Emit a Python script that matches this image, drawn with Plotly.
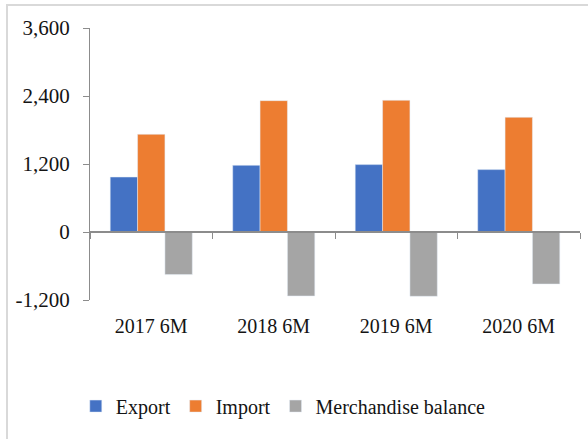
import plotly.graph_objects as go

categories = ["2017 6M", "2018 6M", "2019 6M", "2020 6M"]
export_vals = [970, 1177, 1189, 1101]
import_vals = [1724, 2318, 2324, 2024]
balance_vals = [-752, -1129, -1135, -918]
y_ticks = [-1200, 0, 1200, 2400, 3600]
y_range = [-1200, 3600]

FONT = "Liberation Serif"
TXT = "#141414"
AXIS = "#8c8c8c"

fig = go.Figure()
fig.add_bar(name="Export", x=categories, y=export_vals, marker_color="#4472C4")
fig.add_bar(name="Import", x=categories, y=import_vals, marker_color="#ED7D31")
fig.add_bar(name="Merchandise balance", x=categories, y=balance_vals, marker_color="#A5A5A5")

n = len(categories)
zero_pos = (0 - y_range[0]) / (y_range[1] - y_range[0])

fig.update_layout(
    width=588, height=439,
    margin=dict(l=90, r=8, t=28, b=139, autoexpand=False),
    paper_bgcolor="white", plot_bgcolor="white",
    font=dict(family=FONT, size=20, color=TXT),
    barmode="group", bargap=0.33, bargroupgap=0,
    showlegend=True,
    legend=dict(orientation="h", x=-0.029, xanchor="left", y=-0.39, yanchor="middle",
                font=dict(family=FONT, size=20, color=TXT), traceorder="normal"),
    xaxis=dict(type="category", range=[-0.5, n - 0.5], showline=False, ticks="",
               showgrid=False, zeroline=False, ticklabelstandoff=12, automargin=False),
    xaxis2=dict(overlaying="x", anchor="free", position=zero_pos, range=[-0.5, n - 0.5],
                tickmode="array", tickvals=[i - 0.5 for i in range(n + 1)],
                showticklabels=False, showline=True, linecolor=AXIS, linewidth=1.5,
                ticks="outside", ticklen=6, tickcolor=AXIS, showgrid=False, zeroline=False),
    yaxis=dict(range=y_range, tickmode="array", tickvals=y_ticks,
               ticktext=[f"{v:,}" for v in y_ticks], showgrid=False,
               zeroline=False, showline=True, linecolor=AXIS, linewidth=1,
               ticks="outside", ticklen=6, tickcolor=AXIS, ticklabelstandoff=9,
               tickfont=dict(size=21), automargin=False),
)
# invisible helper trace so the zero-line axis renders
fig.add_scatter(x=[0], y=[0], xaxis="x2", yaxis="y", mode="markers",
                marker=dict(opacity=0), showlegend=False, hoverinfo="skip")

# outer chart border
fig.add_shape(type="rect", xref="paper", yref="paper",
              x0=(7 - 90) / 490, x1=(600 - 90) / 490, y0=(300 - 450) / 272, y1=(300 - 5) / 272,
              line=dict(color="#d9d9d9", width=2), fillcolor="rgba(0,0,0,0)", layer="below")

fig.write_html("out.html", config={"displayModeBar": False},
               post_script="document.body.style.margin='0';document.body.style.overflow='hidden';")
